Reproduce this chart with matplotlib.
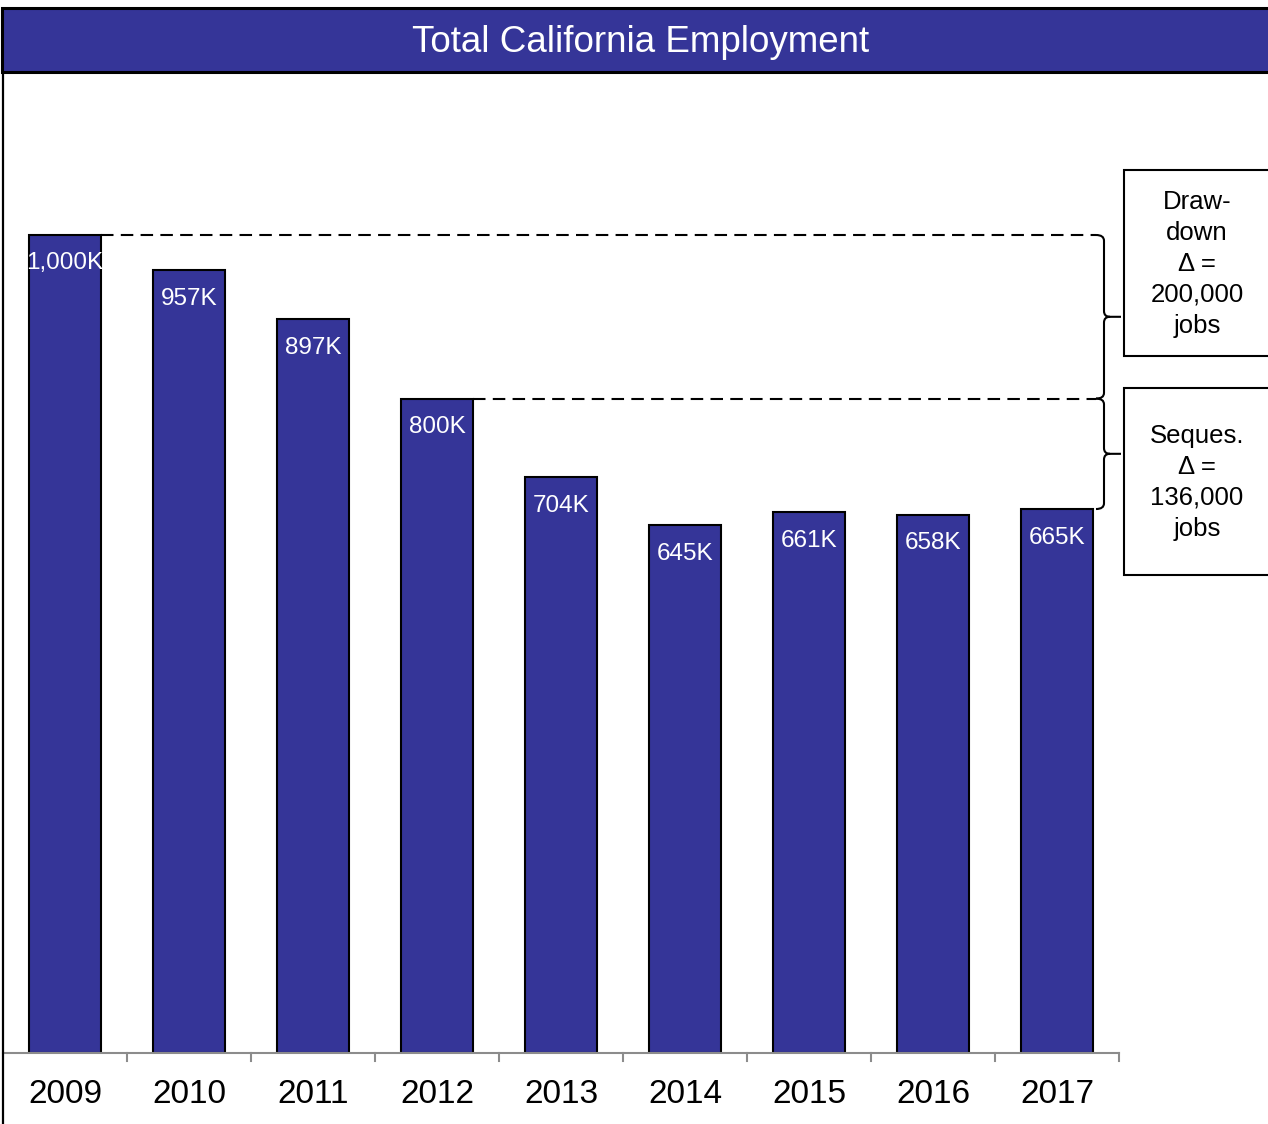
import numpy as np
import matplotlib.pyplot as plt
from matplotlib.patches import Rectangle, PathPatch
from matplotlib.path import Path
from matplotlib.lines import Line2D

years = ['2009', '2010', '2011', '2012', '2013', '2014', '2015', '2016', '2017']
jobs_k = [1000, 957, 897, 800, 704, 645, 661, 658, 665]
bar_labels = ['1,000K', '957K', '897K', '800K', '704K', '645K', '661K', '658K', '665K']
drawdown_text = 'Draw-\ndown\nΔ =\n200,000\njobs'
seques_text = 'Seques.\nΔ =\n136,000\njobs'

navy = '#353598'
plt.rcParams['font.family'] = ['Liberation Sans', 'DejaVu Sans']

W, H = 1268, 1124
fig = plt.figure(figsize=(W / 100, H / 100), dpi=100)

def fx(px):
    return px / W

def fy(py):
    return 1 - py / H

# axes: x from px 3 to 1119, zero line at px 1053
ax = fig.add_axes([fx(3), fy(1053), fx(1119) - fx(3), fy(71.4) - fy(1053)])
x = np.arange(len(years))
ax.bar(x, jobs_k, width=0.58, color=navy, edgecolor='black', linewidth=1.5, zorder=2)
ax.set_xlim(-0.5, len(years) - 0.5)
ax.set_ylim(0, 1200)

for i, (v, lab) in enumerate(zip(jobs_k, bar_labels)):
    ax.annotate(lab, (i, v), xytext=(0, -20.5), textcoords='offset points',
                ha='center', va='center', color='white', fontsize=17.5)

for s in ['top', 'right', 'left']:
    ax.spines[s].set_visible(False)
ax.spines['bottom'].set_color('#8c8c8c')
ax.spines['bottom'].set_linewidth(1.5)
ax.set_yticks([])
ax.set_xticks(x)
ax.set_xticklabels(years, fontsize=24)
ax.tick_params(axis='x', length=0, pad=19)
# boundary ticks between categories
for b in np.arange(0.5, len(years), 1.0):
    ax.plot([b, b], [0, -10], color='#8c8c8c', lw=1.5, clip_on=False)
ax.patch.set_alpha(0)

# dashed reference lines and braces
px_per_x = 124.0
def dx(px):
    return (px - 65) / px_per_x

half_w = 0.29
top_v, mid_v, end_v = jobs_k[0], jobs_k[3], jobs_k[-1]
x_dash_end = dx(1096)
ax.plot([0 + half_w, x_dash_end], [top_v, top_v], color='black', lw=1.5,
        dashes=(6, 3.5), zorder=1)
ax.plot([3 + half_w, x_dash_end], [mid_v, mid_v], color='black', lw=1.5,
        dashes=(6, 3.5), zorder=1)

def brace(y_top, y_bot):
    xv, xt, xk = dx(1104), dx(1121), dx(1110)
    r = 7
    ym = (y_top + y_bot) / 2
    verts = [(x_dash_end, y_top), (xv, y_top), (xv, y_top - r),
             (xv, ym + r), (xv, ym), (xk, ym), (xt, ym),
             (xk, ym), (xv, ym), (xv, ym - r),
             (xv, y_bot + r), (xv, y_bot), (x_dash_end, y_bot)]
    codes = [Path.MOVETO, Path.CURVE3, Path.CURVE3,
             Path.LINETO, Path.CURVE3, Path.CURVE3, Path.LINETO,
             Path.MOVETO, Path.CURVE3, Path.CURVE3,
             Path.LINETO, Path.CURVE3, Path.CURVE3]
    ax.add_patch(PathPatch(Path(verts, codes), fill=False, lw=1.5,
                           edgecolor='black', clip_on=False))

brace(top_v, mid_v)
brace(mid_v, end_v)

# title bar
fig.patches.append(Rectangle((fx(2), fy(72)), fx(1280) - fx(2), fy(8) - fy(72),
                             transform=fig.transFigure, facecolor=navy,
                             edgecolor='black', lw=2.2, zorder=0))
fig.text(fx(641), fy(42), 'Total California Employment', color='white',
         fontsize=26.5, ha='center', va='center')

# left frame line
fig.add_artist(Line2D([fx(3), fx(3)], [0, fy(72)], color='black', lw=1.6))

# side note boxes
for (top, bot, txt) in [(170, 356, drawdown_text), (388, 575, seques_text)]:
    fig.patches.append(Rectangle((fx(1124), fy(bot)), fx(1290) - fx(1124), fy(top) - fy(bot),
                                 transform=fig.transFigure, facecolor='white',
                                 edgecolor='black', lw=1.5))
    fig.text(fx(1197), fy((top + bot) / 2 + 1), txt, ha='center', va='center',
             fontsize=18.5, linespacing=1.36)

fig.savefig('out.png', dpi=100)
